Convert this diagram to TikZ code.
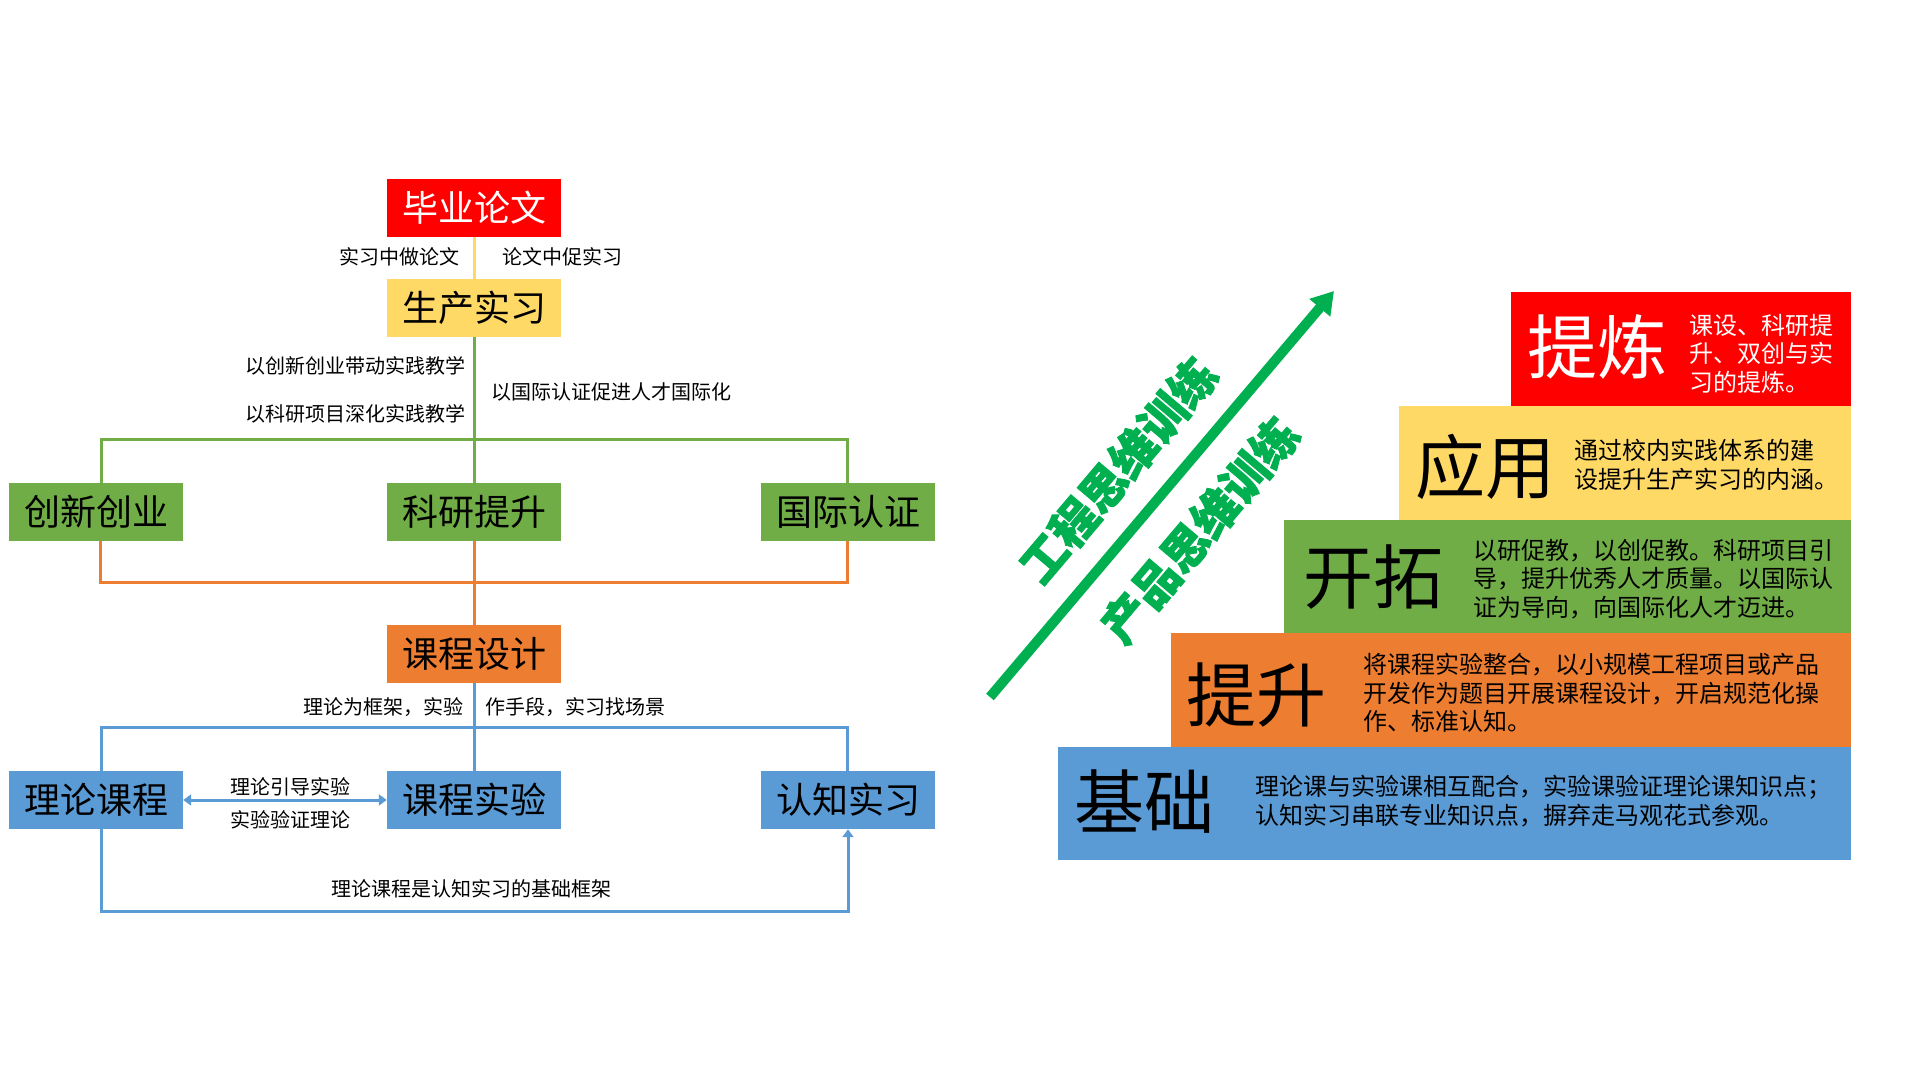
\documentclass[tikz,border=0pt]{standalone}
\usepackage{fontspec}
\setmainfont{Noto Sans CJK SC}
\newfontfamily\heavyfont[BoldFeatures={FakeBold=2}]{Noto Sans CJK SC}
\usetikzlibrary{arrows.meta}
\definecolor{cRed}{HTML}{FF0000}
\definecolor{cYel}{HTML}{FFD966}
\definecolor{cGrn}{HTML}{70AD47}
\definecolor{cOrg}{HTML}{ED7D31}
\definecolor{cBlu}{HTML}{5B9BD5}
\definecolor{cArr}{HTML}{00B050}
\begin{document}
\begin{tikzpicture}[x=1pt,y=-1pt,
  box/.style={minimum width=174pt,minimum height=58pt,inner sep=0pt,font=\fontsize{36}{40}\selectfont},
  lbl/.style={inner sep=0pt,font=\fontsize{20}{24}\selectfont},
  conn/.style={line width=3pt,line join=miter},
  tip/.style={-{Triangle[length=8pt,width=11pt]}},
  stair/.style={inner sep=0pt,anchor=north west},
  big/.style={inner sep=0pt,anchor=west,font=\fontsize{70}{76}\selectfont},
  desc/.style={inner sep=0pt,anchor=west,align=left,font=\fontsize{24}{28.5}\selectfont},
  slogan/.style={inner sep=0pt,rotate=49.7,text=cArr,font=\fontsize{46}{50}\heavyfont\bfseries},
]
\useasboundingbox (0,0) rectangle (1920,1080);

% ---------- left tree ----------
\node[box,fill=cRed,text=white] (thesis) at (474,208) {毕业论文};
\node[box,fill=cYel] (prod) at (474,308) {生产实习};
\node[box,fill=cGrn] (cxcy) at (96,512) {创新创业};
\node[box,fill=cGrn] (kyts) at (474,512) {科研提升};
\node[box,fill=cGrn] (gjrz) at (848,512) {国际认证};
\node[box,fill=cOrg] (kcsj) at (474,654) {课程设计};
\node[box,fill=cBlu] (llkc) at (96,800) {理论课程};
\node[box,fill=cBlu] (kcsy) at (474,800) {课程实验};
\node[box,fill=cBlu] (rzsx) at (848,800) {认知实习};

\coordinate (gL) at (101.5,439);
\coordinate (gR) at (847,439);
\coordinate (oL) at (100,582);
\coordinate (oR) at (847.5,582);
\coordinate (bL) at (101,727);
\coordinate (bR) at (847,727);
\coordinate (dL) at (101,911);
\coordinate (dR) at (848,911);

\draw[conn,cYel] (thesis.south) -- (prod.north);
\draw[conn,cGrn] (prod.south) -- (kyts.north);
\draw[conn,cGrn] (gL |- cxcy.north) -- (gL) -- (gR) -- (gR |- gjrz.north);
\draw[conn,cOrg] (oL |- cxcy.south) -- (oL) -- (oR) -- (oR |- gjrz.south);
\draw[conn,cOrg] (kyts.south) -- (kcsj.north);
\draw[conn,cBlu] (kcsj.south) -- (kcsy.north);
\draw[conn,cBlu] (bL |- llkc.north) -- (bL) -- (bR) -- (bR |- rzsx.north);
\draw[conn,cBlu,{Triangle[length=8pt,width=11pt]}-{Triangle[length=8pt,width=11pt]}] (llkc.east) -- (kcsy.west);
\draw[conn,cBlu,tip] (dL |- llkc.south) -- (dL) -- (dR) -- (dR |- rzsx.south);

\node[lbl,anchor=east] (l1) at (460,257) {实习中做论文};
\node[lbl,anchor=west] (l2) at (502.5,257) {论文中促实习};
\node[lbl,anchor=east] (l3) at (465.5,366) {以创新创业带动实践教学};
\node[lbl,anchor=east] (l4) at (465.5,414) {以科研项目深化实践教学};
\node[lbl,anchor=west] (l5) at (491.5,392) {以国际认证促进人才国际化};
\node[lbl,anchor=east] (l6) at (463.5,707) {理论为框架，实验};
\node[lbl,anchor=west] (l7) at (485.5,707) {作手段，实习找场景};
\node[lbl] (l8) at (290.5,787) {理论引导实验};
\node[lbl] (l9) at (290.5,820) {实验验证理论};
\node[lbl] (l10) at (471.5,889) {理论课程是认知实习的基础框架};

% ---------- right staircase ----------
\node[stair,fill=cRed,minimum width=340pt,minimum height=114pt] (s5) at (1511,292) {};
\node[stair,fill=cYel,minimum width=452pt,minimum height=114pt] (s4) at (1399,406) {};
\node[stair,fill=cGrn,minimum width=567pt,minimum height=113pt] (s3) at (1284,520) {};
\node[stair,fill=cOrg,minimum width=680pt,minimum height=114pt] (s2) at (1171,633) {};
\node[stair,fill=cBlu,minimum width=793pt,minimum height=113pt] (s1) at (1058,747) {};

\node[big,text=white] (b5) at (1527,347) {提炼};
\node[desc,text=white] (d5) at (1689.5,353.5) {课设、科研提\\升、双创与实\\习的提炼。};
\node[big] (b4) at (1415.5,467) {应用};
\node[desc] (d4) at (1574,465) {通过校内实践体系的建\\设提升生产实习的内涵。};
\node[big] (b3) at (1303.5,577) {开拓};
\node[desc] (d3) at (1473,579) {以研促教，以创促教。科研项目引\\导，提升优秀人才质量。以国际认\\证为导向，向国际化人才迈进。};
\node[big] (b2) at (1186.5,695) {提升};
\node[desc] (d2) at (1363.5,693) {将课程实验整合，以小规模工程项目或产品\\开发作为题目开展课程设计，开启规范化操\\作、标准认知。};
\node[big] (b1) at (1074,802) {基础};
\node[desc] (d1) at (1255.5,801) {理论课与实验课相互配合，实验课验证理论课知识点；\\认知实习串联专业知识点，摒弃走马观花式参观。};

% ---------- rising arrow ----------
\coordinate (aS) at (990,697);
\coordinate (aT) at (1334,291);
\draw[line width=10pt,cArr,-{Triangle[length=22pt,width=26pt]}] (aS) -- (aT);
\node[slogan] (t1) at (1118,470) {工程思维训练};
\node[slogan] (t2) at (1200,530) {产品思维训练};
\end{tikzpicture}
\end{document}
